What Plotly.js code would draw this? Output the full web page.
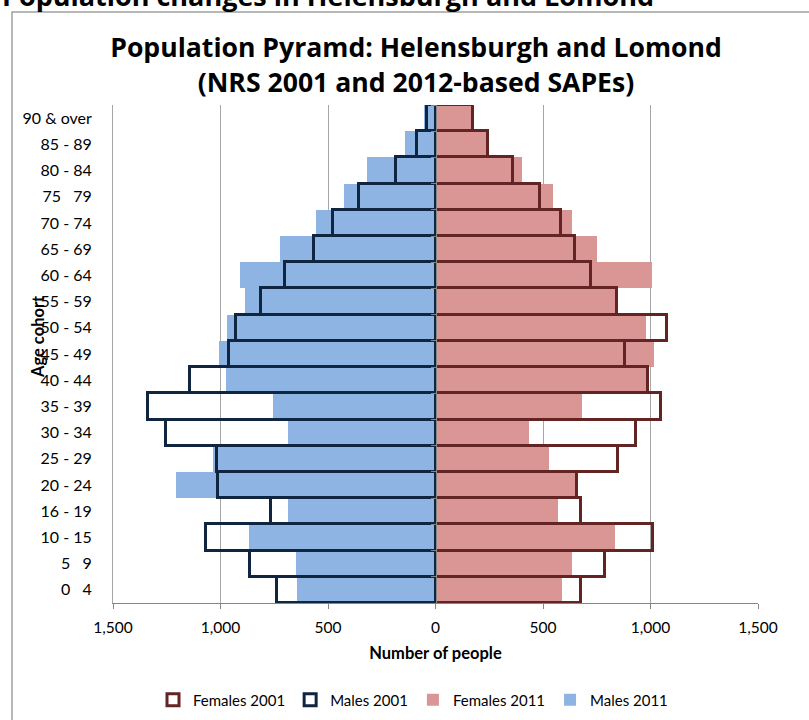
<!DOCTYPE html>
<html><head><meta charset="utf-8">
<script src="https://cdn.plot.ly/plotly-3.0.1.min.js"></script>
<style>html,body{margin:0;padding:0;background:#fff}#chart{width:809px;height:720px}</style>
</head><body><div id="chart"></div>
<script>
// Age cohorts, listed top to bottom as in the chart
const ageGroups = ["90 & over","85 - 89","80 - 84","75 \u00a0 79","70 - 74","65 - 69","60 - 64","55 - 59","50 - 54","45 - 49","40 - 44","35 - 39","30 - 34","25 - 29","20 - 24","16 - 19","10 - 15","5 \u00a0 9","0 \u00a0 4"];
const males2011   = [55, 143, 318, 425, 555, 724, 909, 885, 970, 1006, 975, 755, 684, 1034, 1207, 684, 867, 651, 646];
const males2001   = [38, 87, 186, 355, 478, 564, 699, 811, 930, 960, 1142, 1335, 1252, 1018, 1011, 763, 1068, 863, 735];
const females2011 = [168, 237, 400, 547, 637, 753, 1006, 835, 981, 1017, 985, 683, 434, 527, 649, 570, 835, 634, 589];
const females2001 = [175, 245, 361, 488, 586, 649, 721, 842, 1077, 880, 990, 1051, 931, 849, 657, 676, 1012, 789, 676];
const xTickVals = [-1500, -1000, -500, 0, 500, 1000, 1500];
const xTickText = ["1,500", "1,000", "500", "0", "500", "1,000", "1,500"];

const neg = a => a.map(v => -v);
const FONT = "Lato, 'Open Sans', sans-serif";
const TFONT = "'Open Sans', Lato, sans-serif";
const AX = '#868686';

const traces = [
  {type:'bar', orientation:'h', name:'Females 2011', y:ageGroups, x:females2011,
   marker:{color:'#D99694', line:{width:0}}, legendrank:3, hoverinfo:'x+y'},
  {type:'bar', orientation:'h', name:'Males 2011', y:ageGroups, x:neg(males2011),
   marker:{color:'#8EB4E3', line:{width:0}}, legendrank:4, hoverinfo:'x+y'},
  {type:'bar', orientation:'h', name:'Females 2001', y:ageGroups, x:females2001,
   marker:{color:'rgba(255,255,255,0)', line:{color:'#632523', width:3}}, legendrank:1, hoverinfo:'x+y'},
  {type:'bar', orientation:'h', name:'Males 2001', y:ageGroups, x:neg(males2001),
   marker:{color:'rgba(255,255,255,0)', line:{color:'#10253F', width:3}}, legendrank:2, hoverinfo:'x+y'},
  {type:'bar', orientation:'h', y:ageGroups, x:ageGroups.map(() => 0), yaxis:'y2',
   showlegend:false, hoverinfo:'skip', marker:{color:'rgba(0,0,0,0)'}}
];

const layout = {
  width:809, height:720,
  margin:{l:113, r:51, t:105, b:117, pad:0, autoexpand:false},
  paper_bgcolor:'#ffffff', plot_bgcolor:'rgba(0,0,0,0)',
  barmode:'overlay', bargap:0,
  font:{family:FONT, color:'#000000', size:16},
  title:{text:'<b>Population Pyramd: Helensburgh and Lomond<br>(NRS 2001 and 2012-based SAPEs)</b>',
         font:{family:TFONT, size:26.6, color:'#000000'},
         x:416/809, xref:'container', xanchor:'center', y:1-57/720, yref:'container', yanchor:'middle',
         automargin:false},
  xaxis:{range:[-1500,1500], tickmode:'array', tickvals:xTickVals, ticktext:xTickText,
         showgrid:true, gridcolor:'#a6a6a6', gridwidth:1, zeroline:false, automargin:false,
         showline:true, linecolor:AX, linewidth:1, ticks:'outside', ticklen:5, tickcolor:AX,
         ticklabelstandoff:5, tickfont:{size:15.5},
         title:{text:'<b>Number of people</b>', font:{size:16.5}, standoff:12}},
  yaxis:{type:'category', range:[18.5,-0.5], showgrid:false, zeroline:false, automargin:false,
         showline:true, linecolor:'#a6a6a6', linewidth:1,
         ticks:'', ticklabelstandoff:17, tickfont:{size:16}},
  yaxis2:{type:'category', overlaying:'y', anchor:'free', position:0.5, side:'left', automargin:false,
          range:[18.5,-0.5], showgrid:false, zeroline:false, showline:true, linecolor:AX,
          ticks:'outside', tickson:'boundaries', ticklen:5, tickcolor:AX, showticklabels:false},
  legend:{orientation:'h', xref:'container', x:153/809, xanchor:'left',
          yref:'container', y:1-700/720, yanchor:'middle',
          font:{size:15}, bgcolor:'rgba(0,0,0,0)', traceorder:'normal'},
  annotations:[
    {text:'<b>Age cohort</b>', xref:'paper', yref:'paper', x:(38-113)/645, y:(603-337)/498,
     textangle:-90, showarrow:false, xanchor:'center', yanchor:'middle', font:{size:16.5}},
    {text:'<b>Population changes in Helensburgh and Lomond</b>', xref:'paper', yref:'paper',
     x:(0-113)/645, y:(603+4)/498, xanchor:'left', yanchor:'middle', showarrow:false,
     font:{family:TFONT, size:27}}
  ],
  shapes:[
    {type:'rect', xref:'paper', yref:'paper', x0:(12-113)/645, x1:(815-113)/645,
     y0:(603-730)/498, y1:(603-12)/498, line:{color:'#a0a0a0', width:1.5},
     fillcolor:'rgba(0,0,0,0)', layer:'below'}
  ]
};

Plotly.newPlot('chart', traces, layout, {displayModeBar:false, responsive:false});
</script></body></html>
